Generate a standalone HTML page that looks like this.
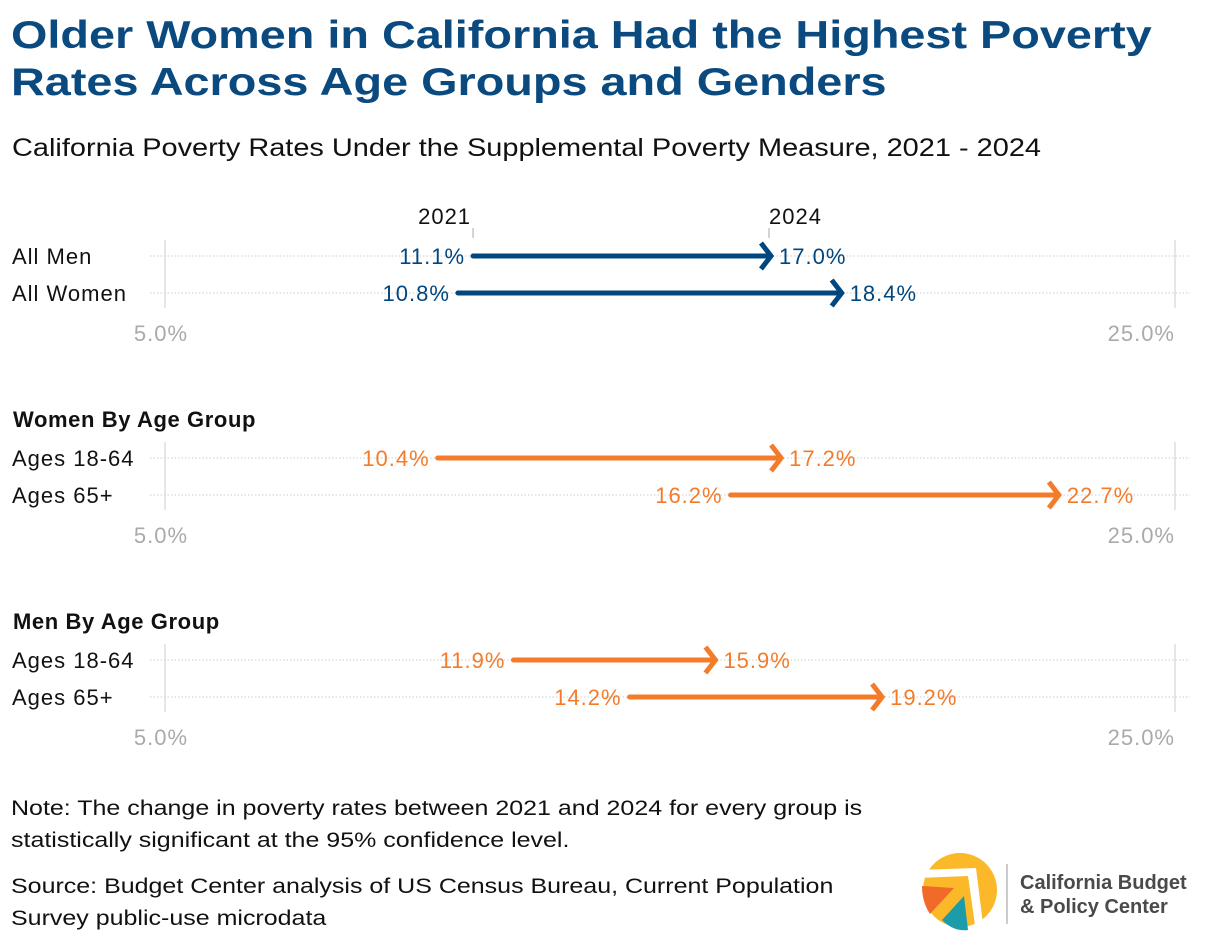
<!DOCTYPE html>
<html><head><meta charset="utf-8"><style>
body{margin:0;background:#fff;font-family:"Liberation Sans",sans-serif;}
#wrap{position:relative;width:1220px;height:950px;overflow:hidden;}
.t{position:absolute;white-space:nowrap;transform-origin:0 0;}
</style></head><body>
<div id="wrap">
<div class="t" style="left:11px;top:12px;font-size:39px;font-weight:bold;color:#0a4a7f;line-height:47px;transform:scaleX(1.2);">Older Women in California Had the Highest Poverty<br>Rates Across Age Groups and Genders</div>
<div class="t" style="left:12px;top:134px;font-size:25px;color:#111;transform:scaleX(1.157);">California Poverty Rates Under the Supplemental Poverty Measure, 2021 - 2024</div>
<svg id="chart" width="1220" height="780" style="position:absolute;left:0;top:0"></svg>
<div class="t" style="left:11px;top:793px;font-size:21px;line-height:32px;color:#111;transform:scaleX(1.19);">Note: The change in poverty rates between 2021 and 2024 for every group is<br>statistically significant at the 95% confidence level.</div>
<div class="t" style="left:11px;top:871px;font-size:21px;line-height:32px;color:#111;transform:scaleX(1.19);">Source: Budget Center analysis of US Census Bureau, Current Population<br>Survey public-use microdata</div>
<svg width="300" height="100" style="position:absolute;left:910px;top:850px">
<circle cx="50" cy="40" r="37" fill="#fbb829"/>
<path d="M12 36 L44 38 L20 64 Q12 52 12 36Z" fill="#f26a2a"/>
<path d="M32 70 L54 46 L58 80 Q44 82 32 70Z" fill="#1c9bab"/>
<path d="M8 28 L58 26 L66 82 L74 82 L66 18 L8 20Z" fill="#fff"/>
<line x1="97" y1="14" x2="97" y2="74" stroke="#bbb" stroke-width="1.5"/>
<text x="110" y="39" font-size="20" font-weight="bold" fill="#4a4a4a" font-family="Liberation Sans">California Budget</text>
<text x="110" y="63" font-size="20" font-weight="bold" fill="#4a4a4a" font-family="Liberation Sans">&amp; Policy Center</text>
</svg>
</div>
<script>
const groupTitles=["","Women By Age Group","Men By Age Group"];
const rowLabels=[["All Men","All Women"],["Ages 18-64","Ages 65+"],["Ages 18-64","Ages 65+"]];
const values2021=[[11.1,10.8],[10.4,16.2],[11.9,14.2]];
const values2024=[[17.0,18.4],[17.2,22.7],[15.9,19.2]];
const axisTicks=[5,25];
const svg=document.getElementById('chart');
const NS='http://www.w3.org/2000/svg';
const x=v=>165+(v-5)*50.5;
const groupTop=[256,458,660];
function mk(tag,attrs,parent){const e=document.createElementNS(NS,tag);for(const k in attrs)e.setAttribute(k,attrs[k]);(parent||svg).appendChild(e);return e;}
function txt(s,attrs){const e=mk('text',Object.assign({'font-family':'Liberation Sans','font-size':22,'letter-spacing':'1'},attrs));e.textContent=s;return e;}
groupTop.forEach((y0,g)=>{
  const col=g===0?'#00467f':'#f47b2a';
  axisTicks.forEach((t,k)=>{
    const l=mk('line',{x1:x(t),x2:x(t),y1:y0-16,y2:y0+52,stroke:'#ddd','stroke-width':1.5});
    
    
    const tl=txt(t.toFixed(1)+'%',{x:k===0?x(t)-4:x(t),y:y0+85,'text-anchor':k===0?'middle':'end',fill:'#aaa'});
    
    
  });
  if(groupTitles[g]){const h=txt(groupTitles[g],{x:13,y:y0-31,'font-weight':'bold',fill:'#111','letter-spacing':'0.6'});
    
    }
  rowLabels[g].forEach((lab,i)=>{
    const y=y0+i*37;
    const gl=mk('line',{x1:150,x2:1190,y1:y,y2:y,stroke:'#ccc','stroke-width':1,'stroke-dasharray':'1.5,2'});
    
    
    const rl=txt(lab,{x:12,y:y+8,fill:'#111'});
    
    
    const a=values2021[g][i],b=values2024[g][i];
    const xa=x(a),xb=x(b);
    const ln=mk('line',{x1:xa,x2:xb-3,y1:y,y2:y,stroke:col,'stroke-width':5,'stroke-linecap':'round'});
    
    
    const hd=mk('polyline',{points:`${xb-10},${y-13} ${xb},${y} ${xb-10},${y+13}`,fill:'none',stroke:col,'stroke-width':5});
    
    
    const sl=txt(a.toFixed(1)+'%',{x:xa-8,y:y+8,'text-anchor':'end',fill:col});
    
    
    const el=txt(b.toFixed(1)+'%',{x:xb+8,y:y+8,fill:col});
    
    
    if(g===0&&i===0){
      const y1=txt('2021',{x:xa-2,y:y-32,fill:'#111','text-anchor':'end'});
      
      
      const y2=txt('2024',{x:xb-2,y:y-32,fill:'#111'});
      
      
      mk('line',{x1:xa,x2:xa,y1:y-28,y2:y-18,stroke:'#aaa'});
      mk('line',{x1:xb-2,x2:xb-2,y1:y-28,y2:y-18,stroke:'#aaa'});
    }
  });
});
</script>
</body></html>
